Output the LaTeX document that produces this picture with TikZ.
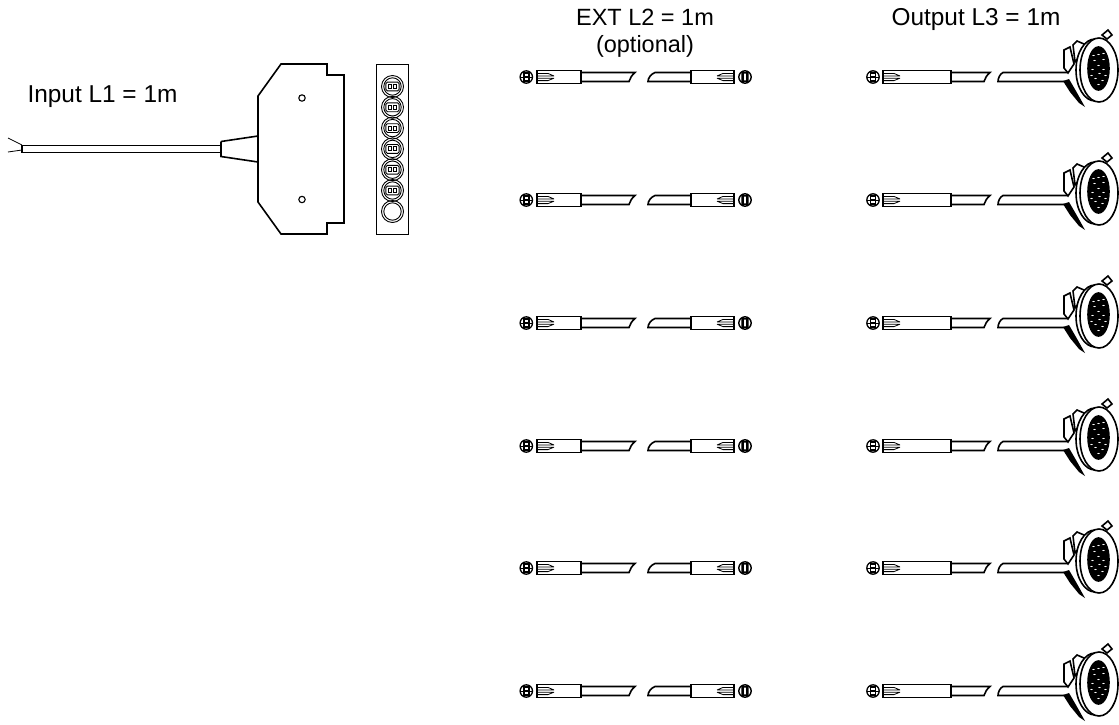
\documentclass[tikz,border=0pt]{standalone}
\usepackage{fontspec}
\setmainfont{Liberation Sans}
\tikzset{
 x=1pt,y=-1pt,
 thick line/.style={line width=1.6pt,line join=miter},
 mid line/.style={line width=1.1pt},
 fine line/.style={line width=0.8pt},
 label text/.style={font=\fontsize{24.4}{25}\selectfont,align=center,inner sep=0pt,text=black},
 ext text/.style={font=\fontsize{23.5}{25}\selectfont,align=center,inner sep=0pt,text=black},
 pics/plugL/.style={code={
  \draw[line width=1.3pt] (0,0) circle (6.2);
  \fill (-3.3,-4.6) rectangle (3.3,4.6);
  \fill (-6,-0.5) rectangle (6,0.5);
  \fill[white] (-1.7,-3) rectangle (1.7,-1);
  \fill[white] (-1.7,1) rectangle (1.7,3);
 }},
 pics/plugR/.style={code={
  \draw[line width=1.4pt] (0,0) circle (6.2);
  \fill (-3.6,-4.8) rectangle (-1.1,4.8) (1.1,-4.8) rectangle (3.6,4.8);
  \fill (-1.1,-4.8) rectangle (1.1,-3.3) (-1.1,3.3) rectangle (1.1,4.8);
 }},
 pics/barrelL/.style={code={
  \draw[thick line] (0,-6.5) rectangle (#1,6.5);
  \draw[fine line] (0,-3.6) -- (11,-3.6) -- (17,-1) (0,-1) -- (17,-1) (0,1.2) -- (17,1.2) (0,3.6) -- (11,3.6) -- (17,1.2);
 }},
 pics/barrelR/.style={code={
  \draw[thick line] (0,-6.5) rectangle (-#1,6.5);
  \draw[fine line] (0,-3.6) -- (-11,-3.6) -- (-17,-1) (0,-1) -- (-17,-1) (0,1.2) -- (-17,1.2) (0,3.6) -- (-11,3.6) -- (-17,1.2);
 }},
 pics/socket/.style={code={
  \draw[line width=0.9pt] (0,0) circle (11);
  \draw[line width=0.9pt] (0,0) circle (8.7);
  \draw[line width=0.9pt,rounded corners=1.5pt] (-6.6,-4.4) rectangle (6.6,4.4);
  \draw[line width=1.1pt,fill=white] (-4.4,-2) rectangle (-0.8,2);
  \draw[line width=1.1pt,fill=white] (0.8,-2) rectangle (4.4,2);
 }},
 pics/extrow/.style={code={
  \pic at (526.3,0) {plugL};
  \pic at (537,0) {barrelL=44};
  \draw[thick line,line cap=round] (581,-4.5) -- (635,-4.5) .. controls (632,-2) and (630,1) .. (629,4.5) -- (581,4.5);
  \draw[thick line,line cap=round] (691,-4.5) -- (655,-4.5) .. controls (651,-3) and (648,1) .. (648,4.5) -- (691,4.5);
  \pic at (734,0) {barrelR=43};
  \pic at (745,0) {plugR};
 }},
 pics/outrow/.style={code={
  \pic at (873,0) {plugL};
  \pic at (883,0) {barrelL=68};
  \draw[thick line,line cap=round] (951,-4.5) -- (990,-4.5) .. controls (987,-2) and (985,1) .. (984,4.5) -- (951,4.5);
  \begin{scope}[shift={(0,-77)}]
   % rear tab
   \draw[thick line,fill=white] (1102,35) -- (1108,30) -- (1112,35) -- (1107,39) -- cycle;
   % rear brackets
   \draw[thick line,fill=white] (1073,45) -- (1077,41) -- (1084,44) -- (1083,52) -- (1075,62) -- cycle;
   \draw[thick line,fill=white] (1064,50) -- (1070,47) -- (1074,64) -- (1068,73) -- (1064,68) -- cycle;
   % body behind the rim
   \draw[thick line,fill=white] (1095,70) ellipse (19 and 31);
   % cable
   \draw[thick line,fill=white,line cap=round] (1067,72.5) -- (1003,72.5) .. controls (1000,74) and (998,78) .. (998,81.5) -- (1065,81.5);
   % spring clip
   \fill (1063,81) -- (1069,79) -- (1076,91) -- (1085,107) -- (1079,103) -- (1070,92) -- cycle;
   % rim and face
   \draw[thick line,fill=white] (1099,70) ellipse (19 and 32);
   \draw[thick line,fill=black] (1098.5,68.5) ellipse (10.5 and 21.5);
   \foreach \a/\b in {0/-14,-4/-8,5/-9,0/-3,-6/1,5/1,1/5,-3/10,4/12,0/16,5/-15,-5/-13,-7/7,7/7}
     \fill[white,shift={(1098.5,68.5)}] (\a,\b) ellipse (1.4 and 0.55);
  \end{scope}
 }},
}
\begin{document}
\begin{tikzpicture}
\useasboundingbox (0,0) rectangle (1119,724);
\node[label text] (input) at (102.5,96.5) {Input L1 = 1m};
\node[ext text] (ext) at (645,33) {EXT L2 = 1m\\[2pt](optional)};
\node[label text] (output) at (976,19.5) {Output L3 = 1m};
% input cable
\draw[fine line] (22,145) -- (8,138) (22,150) -- (8,152);
\draw[thick line] (22,145.5) rectangle (221,152.5);
\draw[thick line] (221,141.5) -- (258,136) (221,141.5) -- (221,156.5) -- (258,162);
% connector housing
\draw[thick line] (258,96) -- (281,64) -- (327,64) -- (327,75) -- (344,75) -- (344,223) -- (327,223) -- (327,234) -- (281,234) -- (258,202) -- cycle;
\draw[mid line] (302,98) circle (3.2);
\draw[mid line] (302,199.5) circle (3.2);
% socket strip
\draw[line width=1pt] (376.5,64) rectangle (408.5,234);
\foreach \i in {0,...,5}{\pic at (392.5,{86.5+\i*20.8}) {socket};}
\draw[line width=0.9pt] (392.5,211.5) circle (11);
\draw[line width=0.9pt] (392.5,211.5) circle (8.7);
% rows
\foreach \y in {77,200,323,446,568,691}{
 \pic at (0,\y) {extrow};
 \pic at (0,\y) {outrow};
}
\end{tikzpicture}
\end{document}
